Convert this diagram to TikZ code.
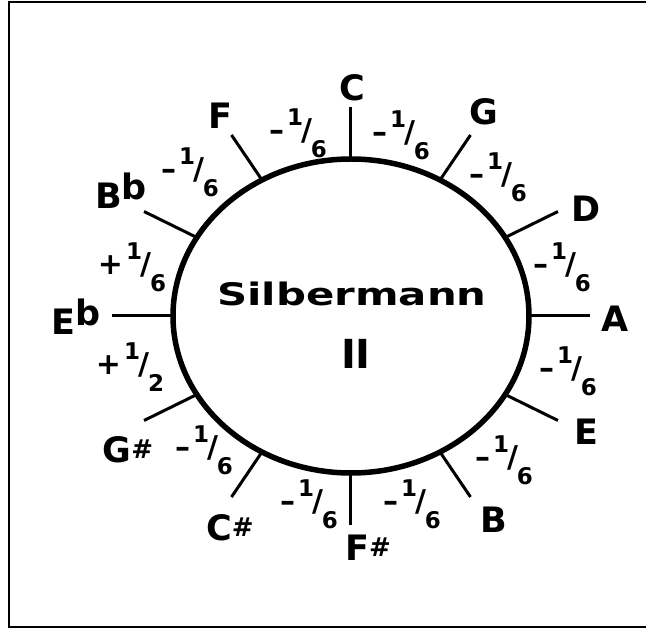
\documentclass[tikz,border=0pt]{standalone}
\usepackage{fontspec}
\setmainfont{DejaVu Sans}

% bruchzahl: vorzeichen, zaehler, nenner
\newcommand{\tune}[3]{{\fontsize{30}{30}\selectfont#1}\kern3pt\raisebox{15pt}{#2}\kern-2pt{\fontsize{30}{30}\selectfont/}\kern-1pt\raisebox{-17pt}{#3}}
\newcommand{\flatnote}[1]{#1\raisebox{9pt}{b}}
\newcommand{\sharpnote}[1]{#1\raisebox{4pt}{\fontsize{26}{26}\selectfont\#}}

\begin{document}
\begin{tikzpicture}[
  x=1pt, y=1pt,
  rim/.style={line width=5.5pt},
  tick/.style={line width=3pt},
  note/.style={font=\fontsize{35}{35}\selectfont\bfseries, inner sep=0pt},
  cents/.style={font=\fontsize{23}{23}\selectfont\bfseries, inner sep=0pt},
  frame/.style={line width=2pt}
]
  \useasboundingbox (-351,-313) rectangle (295,316);
  \draw[frame] (-342,314) rectangle (299,-311);

  % Kreis
  \draw[rim] (0,0) ellipse [x radius=178, y radius=157];

  % Striche (innen / aussen)
  \coordinate (iC) at (90:178 and 157);   \coordinate (oC) at (90:239 and 209);
  \coordinate (iG) at (60:178 and 157);   \coordinate (oG) at (60:239 and 209);
  \coordinate (iD) at (30:178 and 157);   \coordinate (oD) at (30:239 and 209);
  \coordinate (iA) at (0:178 and 157);    \coordinate (oA) at (0:239 and 209);
  \coordinate (iE) at (-30:178 and 157);  \coordinate (oE) at (-30:239 and 209);
  \coordinate (iB) at (-60:178 and 157);  \coordinate (oB) at (-60:239 and 209);
  \coordinate (iFs) at (-90:178 and 157); \coordinate (oFs) at (-90:239 and 209);
  \coordinate (iCs) at (-120:178 and 157); \coordinate (oCs) at (-120:239 and 209);
  \coordinate (iGs) at (-150:178 and 157); \coordinate (oGs) at (-150:239 and 209);
  \coordinate (iEb) at (180:178 and 157); \coordinate (oEb) at (180:239 and 209);
  \coordinate (iBb) at (150:178 and 157); \coordinate (oBb) at (150:239 and 209);
  \coordinate (iF) at (120:178 and 157);  \coordinate (oF) at (120:239 and 209);

  \draw[tick] (iC) -- (oC);   \draw[tick] (iG) -- (oG);   \draw[tick] (iD) -- (oD);
  \draw[tick] (iA) -- (oA);   \draw[tick] (iE) -- (oE);   \draw[tick] (iB) -- (oB);
  \draw[tick] (iFs) -- (oFs); \draw[tick] (iCs) -- (oCs); \draw[tick] (iGs) -- (oGs);
  \draw[tick] (iEb) -- (oEb); \draw[tick] (iBb) -- (oBb); \draw[tick] (iF) -- (oF);

  % Tonnamen
  \node[note] (C) at (1,228) {C};
  \node[note] (G) at (133,204) {G};
  \node[note] (D) at (235,107) {D};
  \node[note] (A) at (264,-3) {A};
  \node[note] (E) at (235,-116) {E};
  \node[note] (B) at (143,-204) {B};
  \node[note] (Fs) at (17,-232) {\sharpnote{F}};
  \node[note] (Cs) at (-121,-212) {\sharpnote{C}};
  \node[note] (Gs) at (-223,-134) {\sharpnote{G}};
  \node[note] (Eb) at (-275,-1) {\flatnote{E}};
  \node[note] (Bb) at (-230,125) {\flatnote{B}};
  \node[note] (F) at (-131,200) {F};

  % Abweichungen
  \node[cents] (cg) at (50,181) {\tune{–}{1}{6}};
  \node[cents] (gd) at (147,139) {\tune{–}{1}{6}};
  \node[cents] (da) at (211,49) {\tune{–}{1}{6}};
  \node[cents] (ae) at (217,-55) {\tune{–}{1}{6}};
  \node[cents] (eb) at (153,-144) {\tune{–}{1}{6}};
  \node[cents] (bfs) at (61,-188) {\tune{–}{1}{6}};
  \node[cents] (fscs) at (-42,-188) {\tune{–}{1}{6}};
  \node[cents] (csgs) at (-147,-134) {\tune{–}{1}{6}};
  \node[cents] (gseb) at (-221,-51) {\tune{+}{1}{2}};
  \node[cents] (ebbb) at (-219,49) {\tune{+}{1}{6}};
  \node[cents] (bbf) at (-161,144) {\tune{–}{1}{6}};
  \node[cents] (fc) at (-53,183) {\tune{–}{1}{6}};

  % Titel
  \node[font=\fontsize{31}{31}\selectfont\bfseries, inner sep=0pt] (title) at (1,22) {\scalebox{1.35}[1]{Silbermann}};
  \node[font=\fontsize{40}{40}\selectfont\bfseries, inner sep=0pt] (num) at (5,-38) {II};
\end{tikzpicture}
\end{document}
